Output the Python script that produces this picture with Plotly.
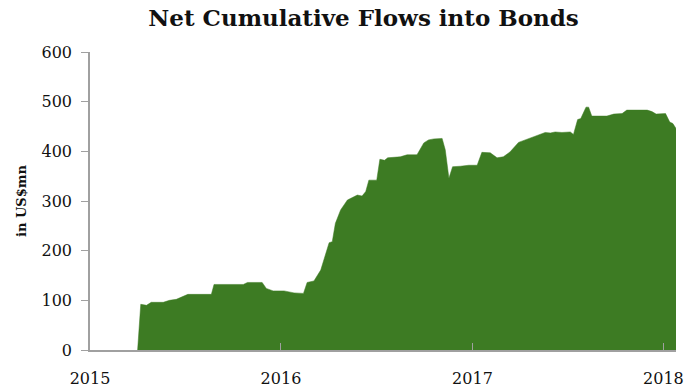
import plotly.graph_objects as go

# Weekly readings of net cumulative flows into bonds (US$ mn)
dates = [
    "2015-04-02", "2015-04-08", "2015-04-19", "2015-04-28", "2015-05-21",
    "2015-06-02", "2015-06-15", "2015-07-07", "2015-08-21", "2015-08-26",
    "2015-10-21", "2015-10-29", "2015-11-26", "2015-12-04", "2015-12-17",
    "2016-01-07", "2016-01-26", "2016-02-13", "2016-02-20", "2016-03-04",
    "2016-03-17", "2016-03-27", "2016-04-02", "2016-04-08", "2016-04-14",
    "2016-04-24", "2016-05-07", "2016-05-26", "2016-06-04", "2016-06-11",
    "2016-06-17", "2016-07-02", "2016-07-08", "2016-07-17", "2016-07-23",
    "2016-08-16", "2016-08-29", "2016-09-17", "2016-09-30", "2016-10-09",
    "2016-10-19", "2016-11-04", "2016-11-10", "2016-11-17", "2016-11-24",
    "2016-12-09", "2016-12-25", "2017-01-10", "2017-01-19", "2017-02-04",
    "2017-02-17", "2017-03-01", "2017-03-14", "2017-03-30", "2017-04-15",
    "2017-05-04", "2017-05-20", "2017-05-30", "2017-06-08", "2017-06-21",
    "2017-07-07", "2017-07-13", "2017-07-21", "2017-07-27", "2017-08-06",
    "2017-08-11", "2017-08-17", "2017-09-15", "2017-09-28", "2017-10-14",
    "2017-10-23", "2017-12-01", "2017-12-10", "2017-12-18", "2018-01-05",
    "2018-01-13", "2018-01-19", "2018-01-25",
]
flows = [
    0, 92, 90, 96, 96,
    100, 102, 112, 112, 132,
    132, 136, 136, 124, 119,
    119, 115, 114, 136, 139,
    161, 195, 216, 218, 255,
    282, 302, 312, 310, 319,
    342, 342, 384, 382, 387,
    389, 393, 393, 417, 423,
    425, 426, 403, 346, 369,
    370, 372, 372, 398, 397,
    387, 389, 399, 418, 424,
    431, 438, 437, 439, 438,
    439, 434, 464, 466, 489,
    489, 471, 471, 475, 476,
    483, 483, 480, 475, 476,
    459, 456, 446,
]

year_ticks = ["2015-01-01", "2016-01-01", "2017-01-01", "2018-01-01"]
year_labels = ["2015", "2016", "2017", "2018"]
value_ticks = [0, 100, 200, 300, 400, 500, 600]

GREEN = "#3d7b23"
AXIS = "#a0a0a0"
FONT = "Georgia, 'DejaVu Serif', serif"

fig = go.Figure(
    go.Scatter(
        x=dates,
        y=flows,
        mode="lines",
        line=dict(color=GREEN, width=0.5),
        fill="tozeroy",
        fillcolor=GREEN,
        hoverinfo="x+y",
    )
)

fig.update_layout(
    width=686,
    height=389,
    margin=dict(l=90, r=10, t=52, b=39),
    paper_bgcolor="white",
    plot_bgcolor="white",
    showlegend=False,
    font=dict(family=FONT, color="#111111", size=16),
    title=dict(
        text="<b>Net Cumulative Flows into Bonds</b>",
        font=dict(family=FONT, size=23, color="#111111"),
        x=0.53,
        xref="container",
        xanchor="center",
        y=0.953,
        yref="container",
        yanchor="middle",
    ),
    xaxis=dict(
        type="date",
        range=["2015-01-01", "2018-01-25"],
        tickvals=year_ticks,
        ticktext=year_labels,
        ticks="inside",
        ticklen=7,
        tickcolor=AXIS,
        showline=True,
        linecolor=AXIS,
        linewidth=1.5,
        showgrid=False,
        zeroline=False,
        tickfont=dict(size=16),
        ticklabelstandoff=13,
        automargin=False,
    ),
    yaxis=dict(
        range=[0, 600],
        tickvals=value_ticks,
        ticks="outside",
        ticklen=7,
        tickcolor=AXIS,
        showline=True,
        linecolor=AXIS,
        linewidth=1.5,
        showgrid=False,
        zeroline=False,
        tickfont=dict(size=16),
        ticklabelstandoff=6,
        automargin=False,
        title=dict(
            text="<b>in US$mn</b>",
            font=dict(family=FONT, size=13),
            standoff=12,
        ),
    ),
)

fig.write_html("out.html")
